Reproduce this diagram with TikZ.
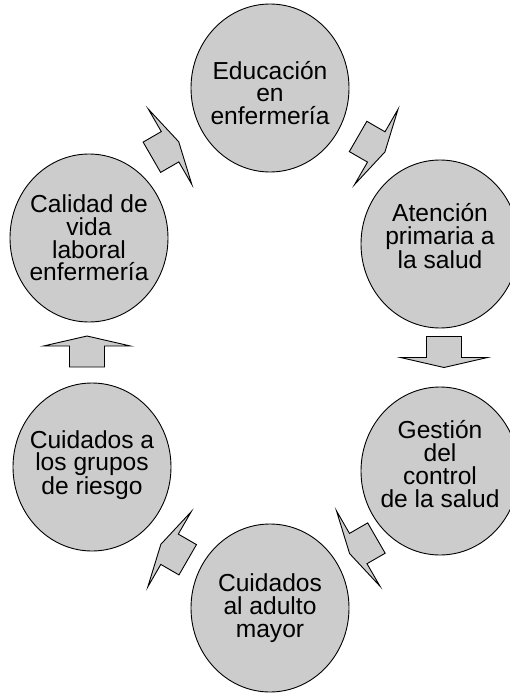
\documentclass[tikz,border=0pt]{standalone}
\usepackage{fontspec}
\setmainfont{Liberation Sans}
\usetikzlibrary{shapes.geometric}
\definecolor{bubblegray}{RGB}{204,204,204}
\begin{document}
\begin{tikzpicture}[x=1pt,y=-1pt,
  bubble/.style={ellipse, draw=black, line width=0.9pt, fill=bubblegray,
    minimum width=158pt, minimum height=168pt, inner sep=0pt},
  txt/.style={align=center, inner sep=0pt,
    font=\fontsize{24.6pt}{22.8pt}\selectfont},
  arrowshape/.style={draw=black, line width=0.9pt, fill=bubblegray, line join=miter},
  blockarrow/.pic={\draw[arrowshape] (-15.5,-17.5) -- (5.5,-17.5) -- (5.5,-43.5)
      -- (15.5,0) -- (5.5,43.5) -- (5.5,17.5) -- (-15.5,17.5) -- cycle;}
]
\useasboundingbox (0,0) rectangle (510,693);

% circles
\node[bubble] (n1) at (270,88) {};
\node[bubble] (n2) at (440,244) {};
\node[bubble] (n3) at (440,471) {};
\node[bubble] (n4) at (270,608) {};
\node[bubble] (n5) at (92,467) {};
\node[bubble] (n6) at (89,238) {};

% texts
\node[txt] (t1) at ([yshift=-5pt]n1.center) {Educación\\en\\enfermería};
\node[txt] (t2) at ([yshift=8pt]n2.center) {Atención\\primaria a\\la salud};
\node[txt] (t3) at ([yshift=7pt]n3.center) {Gestión\\del\\control\\de la salud};
\node[txt] (t4) at (n4) {Cuidados\\al adulto\\mayor};
\node[txt] (t5) at ([yshift=2pt]n5.center) {Cuidados a\\los grupos\\de riesgo};
\node[txt] (t6) at (n6) {Calidad de\\vida\\laboral\\enfermería};

% block arrows (clockwise)
\pic[rotate=-30] (a12) at (371.5,144.2) {blockarrow};
\pic[rotate=-90] (a23) at (444,352) {blockarrow};
\pic[rotate=-150] (a34) at (363,545.8) {blockarrow};
\pic[rotate=150] (a45) at (174.3,552) {blockarrow};
\pic[rotate=90] (a56) at (87,351.5) {blockarrow};
\pic[rotate=30] (a61) at (165.3,149.5) {blockarrow};
\end{tikzpicture}
\end{document}
